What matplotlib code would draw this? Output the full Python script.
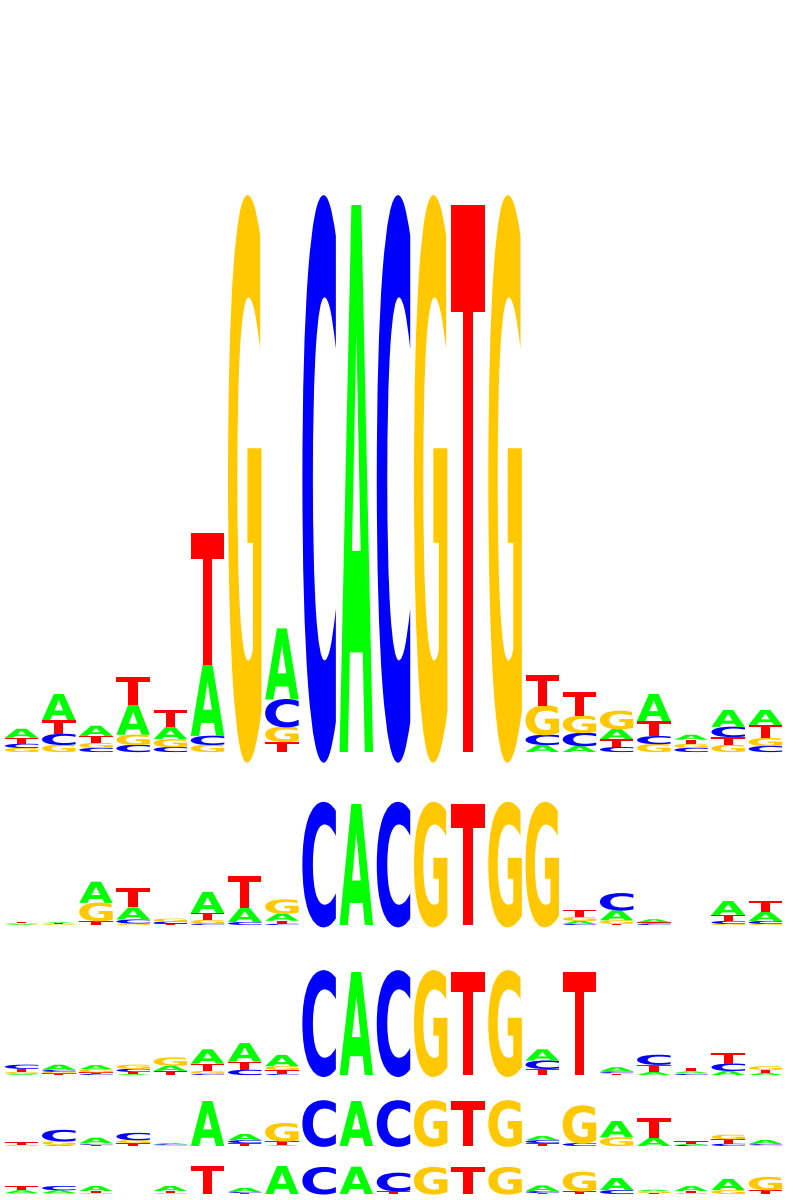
import matplotlib
matplotlib.use('Agg')
import matplotlib.pyplot as plt
from matplotlib.textpath import TextPath
from matplotlib.patches import PathPatch
from matplotlib.font_manager import FontProperties
from matplotlib.transforms import Affine2D

# letters are listed bottom -> top for every position, heights in bits
row1_letters = ["GCTA", "GCTA", "CGTA", "CGAT", "CGAT", "GCAT", "G", "TGCA", "C", "A", "C",
                "G", "T", "G", "ACGT", "ACGT", "CTAG", "GCTA", "CGTA", "GTCA", "CGTA"]
row1_heights = [[.015, .015, .022, .033], [.026, .040, .051, .095], [.015, .018, .026, .037],
                [.026, .037, .11, .102], [.018, .029, .044, .062], [.026, .033, .26, .48],
                [2.0], [.037, .055, .10, .26], [2.0], [2.0], [2.0], [2.0], [2.0], [2.0],
                [.026, .037, .106, .113], [.022, .048, .062, .088], [.018, .029, .037, .066],
                [.029, .029, .055, .099], [.015, .015, .015, .018], [.026, .029, .037, .062],
                [.022, .029, .048, .055]]

row2_letters = ["AGT", "GTA", "TGA", "GCAT", "TCG", "CGTA", "CAT", "CTAG", "C", "A", "C",
                "G", "T", "G", "G", "CAGT", "TGAC", "CTA", "", "GCTA", "GCAT"]
row2_heights = [[.015, .015, .02], [.015, .015, .015], [.066, .30, .35], [.025, .066, .2, .32],
                [.025, .03, .05], [.025, .058, .116, .35], [.05, .23, .53], [.02, .05, .12, .23],
                [2.0], [2.0], [2.0], [2.0], [2.0], [2.0], [2.0],
                [.017, .05, .066, .116], [.02, .058, .165, .28], [.025, .02, .05], [],
                [.017, .05, .1, .23], [.017, .05, .15, .18]]

row3_letters = ["AGTC", "TGCA", "CTGA", "ATCG", "TAG", "CGTA", "CTA", "CTGA", "C", "A", "C",
                "G", "T", "G", "TCA", "T", "TGCA", "ATC", "CGAT", "ACT", "ATG"]
row3_heights = [[.02, .04, .06, .08], [.03, .03, .04, .1], [.02, .03, .06, .08], [.02, .04, .06, .08],
                [.08, .1, .16], [.02, .06, .14, .28], [.1, .16, .36], [.02, .08, .07, .22],
                [2.0], [2.0], [2.0], [2.0], [2.0], [2.0],
                [.12, .16, .22], [2.0], [.02, .02, .03, .08], [.06, .14, .19],
                [.02, .02, .03, .07], [.08, .14, .21], [.04, .06, .07]]

row4_letters = ["GT", "AGC", "TCGA", "TGC", "GCA", "A", "TCA", "ATG", "C", "A", "C",
                "G", "T", "G", "TCA", "CG", "GA", "AT", "CAT", "CTG", "GCA"]
row4_heights = [[.05, .13], [.05, .16, .5], [.04, .04, .04, .25], [.13, .13, .32],
                [.04, .04, .05], [2.0], [.13, .13, .27], [.04, .17, .8],
                [2.0], [2.0], [2.0], [2.0], [2.0], [2.0],
                [.13, .13, .18], [.13, 1.65], [.38, .73], [.36, .88],
                [.05, .05, .12], [.1, .2, .2], [.05, .04, .18]]

row5_letters = ["GAT", "GAC", "GTA", "", "GTA", "T", "TCA", "A", "C", "A", "TC",
                "G", "T", "G", "TCA", "TG", "CA", "TGA", "GTA", "GA", "TG"]
row5_heights = [[.07, .2, .3], [.07, .2, .3], [.07, .14, .36], [], [.07, .14, .36],
                [2.0], [.07, .07, .3], [2.0], [1.9], [1.95], [.2, 1.3],
                [1.9], [1.95], [1.9], [.07, .14, .4], [.2, 1.37], [.28, .86],
                [.07, .14, .1], [.07, .14, .35], [.28, .8], [.28, .93]]

colors = {'A': '#00ff00', 'C': '#0000ff', 'G': '#ffc800', 'T': '#ff0000'}

# pixel baseline and pixel height of 2 bits for each logo
rows = [(row1_letters, row1_heights, 752, 547),
        (row2_letters, row2_heights, 925, 121),
        (row3_letters, row3_heights, 1075, 103),
        (row4_letters, row4_heights, 1146, 45),
        (row5_letters, row5_heights, 1194, 28)]

W, H = 798, 1200
fp = FontProperties(family='DejaVu Sans', weight='bold')
cap = TextPath((0, 0), 'T', size=1, prop=fp).get_extents().ymax
glyphs = {}
for ch in 'ACGT':
    p = TextPath((0, 0), ch, size=1, prop=fp)
    ext = p.get_extents()
    glyphs[ch] = (p, ext.xmin, ext.xmax)

fig = plt.figure(figsize=(W / 100, H / 100), dpi=100)
x_left, x_right = 3, 784
lw = 0.9

for letters, heights, base, hpx in rows:
    ax = fig.add_axes([x_left / W, (H - base) / H, (x_right - x_left) / W, hpx / H])
    ax.set_xlim(0, len(letters))
    ax.set_ylim(0, 2)
    ax.axis('off')
    for i, (col, hs) in enumerate(zip(letters, heights)):
        y = 0
        for ch, h in zip(col, hs):
            p, xmin, xmax = glyphs[ch]
            tr = Affine2D().translate(-xmin, 0).scale(lw / (xmax - xmin), h / cap) \
                .translate(i + (1 - lw) / 2, y)
            ax.add_patch(PathPatch(tr.transform_path(p), facecolor=colors[ch],
                                   edgecolor='none', lw=0, clip_on=False))
            y += h

fig.savefig('out.png', dpi=100)
